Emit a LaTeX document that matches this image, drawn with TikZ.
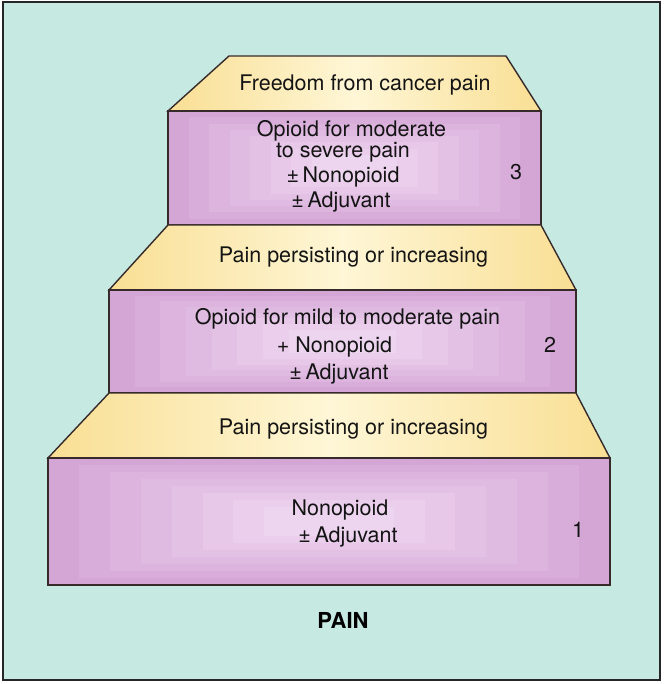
\documentclass[tikz,border=0pt]{standalone}
\usepackage{fontspec}
\setmainfont{TeX Gyre Heros}
\definecolor{bgTeal}{RGB}{198,233,226}
\definecolor{pEdge}{RGB}{212,166,214}
\definecolor{pCenter}{RGB}{239,214,240}
\definecolor{yEdge}{RGB}{249,223,148}
\definecolor{yCenter}{RGB}{254,246,214}
\definecolor{lineCol}{RGB}{55,42,42}
\newcommand\gradbox[4]{%
  \foreach \i in {0,...,7}{%
    \pgfmathsetmacro\dx{(#3-#1)*0.055*\i}%
    \pgfmathsetmacro\dy{(#4-#2)*0.055*\i}%
    \pgfmathtruncatemacro\pct{100-\i*14}%
    \fill[pEdge!\pct!pCenter] ({#1+\dx},{#2+\dy}) rectangle ({#3-\dx},{#4-\dy});
  }%
  \draw[outline] (#1,#2) rectangle (#3,#4);
}
\begin{document}
\begin{tikzpicture}[x=1pt,y=-1pt,
  outline/.style={draw=lineCol,line width=1.4pt,line join=miter},
  stepshade/.style={left color=yEdge,right color=yEdge,middle color=yCenter},
  lbl/.style={font=\fontsize{21.5}{26}\selectfont,inner sep=0pt,anchor=base,text=black!92},
  numlbl/.style={lbl},
  title/.style={font=\fontsize{22}{26}\selectfont\bfseries,inner sep=0pt,anchor=base}]
\useasboundingbox (0,0) rectangle (663,684);
% background and frame
\fill[bgTeal] (3,2) rectangle (660,680);
\draw[black!85,line width=2pt] (3,2) rectangle (660,680);

% top step (3)
\shade[stepshade] (229,56) -- (506,56) -- (541,111) -- (168,111) -- cycle;
\draw[outline] (229,56) -- (506,56) -- (541,111) -- (168,111) -- cycle;
\gradbox{168}{111}{541}{225}

% middle step (2)
\shade[stepshade] (168,225) -- (541,225) -- (576,290) -- (109,290) -- cycle;
\draw[outline] (168,225) -- (541,225) -- (576,290) -- (109,290) -- cycle;
\gradbox{109}{290}{576}{393}

% bottom step (1)
\shade[stepshade] (109,393) -- (576,393) -- (610,458) -- (48,458) -- cycle;
\draw[outline] (109,393) -- (576,393) -- (610,458) -- (48,458) -- cycle;
\gradbox{48}{458}{610}{585}

% texts
\node[lbl] (freedom) at (365,91) {Freedom from cancer pain};
\node[lbl] (s3a) at (351.5,137) {Opioid for moderate};
\node[lbl] (s3b) at (343,158) {to severe pain};
\node[lbl] (s3c) at (343,183) {±\,Nonopioid};
\node[lbl] (s3d) at (341,208) {±\,Adjuvant};
\node[numlbl] (n3) at (516,180) {3};

\node[lbl] (persist2) at (353.5,262) {Pain persisting or increasing};
\node[lbl] (s2a) at (347.5,324) {Opioid for mild to moderate pain};
\node[lbl] (s2b) at (334.5,352) {+ Nonopioid};
\node[lbl] (s2c) at (339,379) {±\,Adjuvant};
\node[numlbl] (n2) at (550,352) {2};

\node[lbl] (persist1) at (353.5,434) {Pain persisting or increasing};
\node[lbl] (s1a) at (340,515) {Nonopioid};
\node[lbl] (s1b) at (348,542) {±\,Adjuvant};
\node[numlbl] (n1) at (578,537) {1};

\node[title] (pain) at (343,628) {PAIN};
\end{tikzpicture}
\end{document}
